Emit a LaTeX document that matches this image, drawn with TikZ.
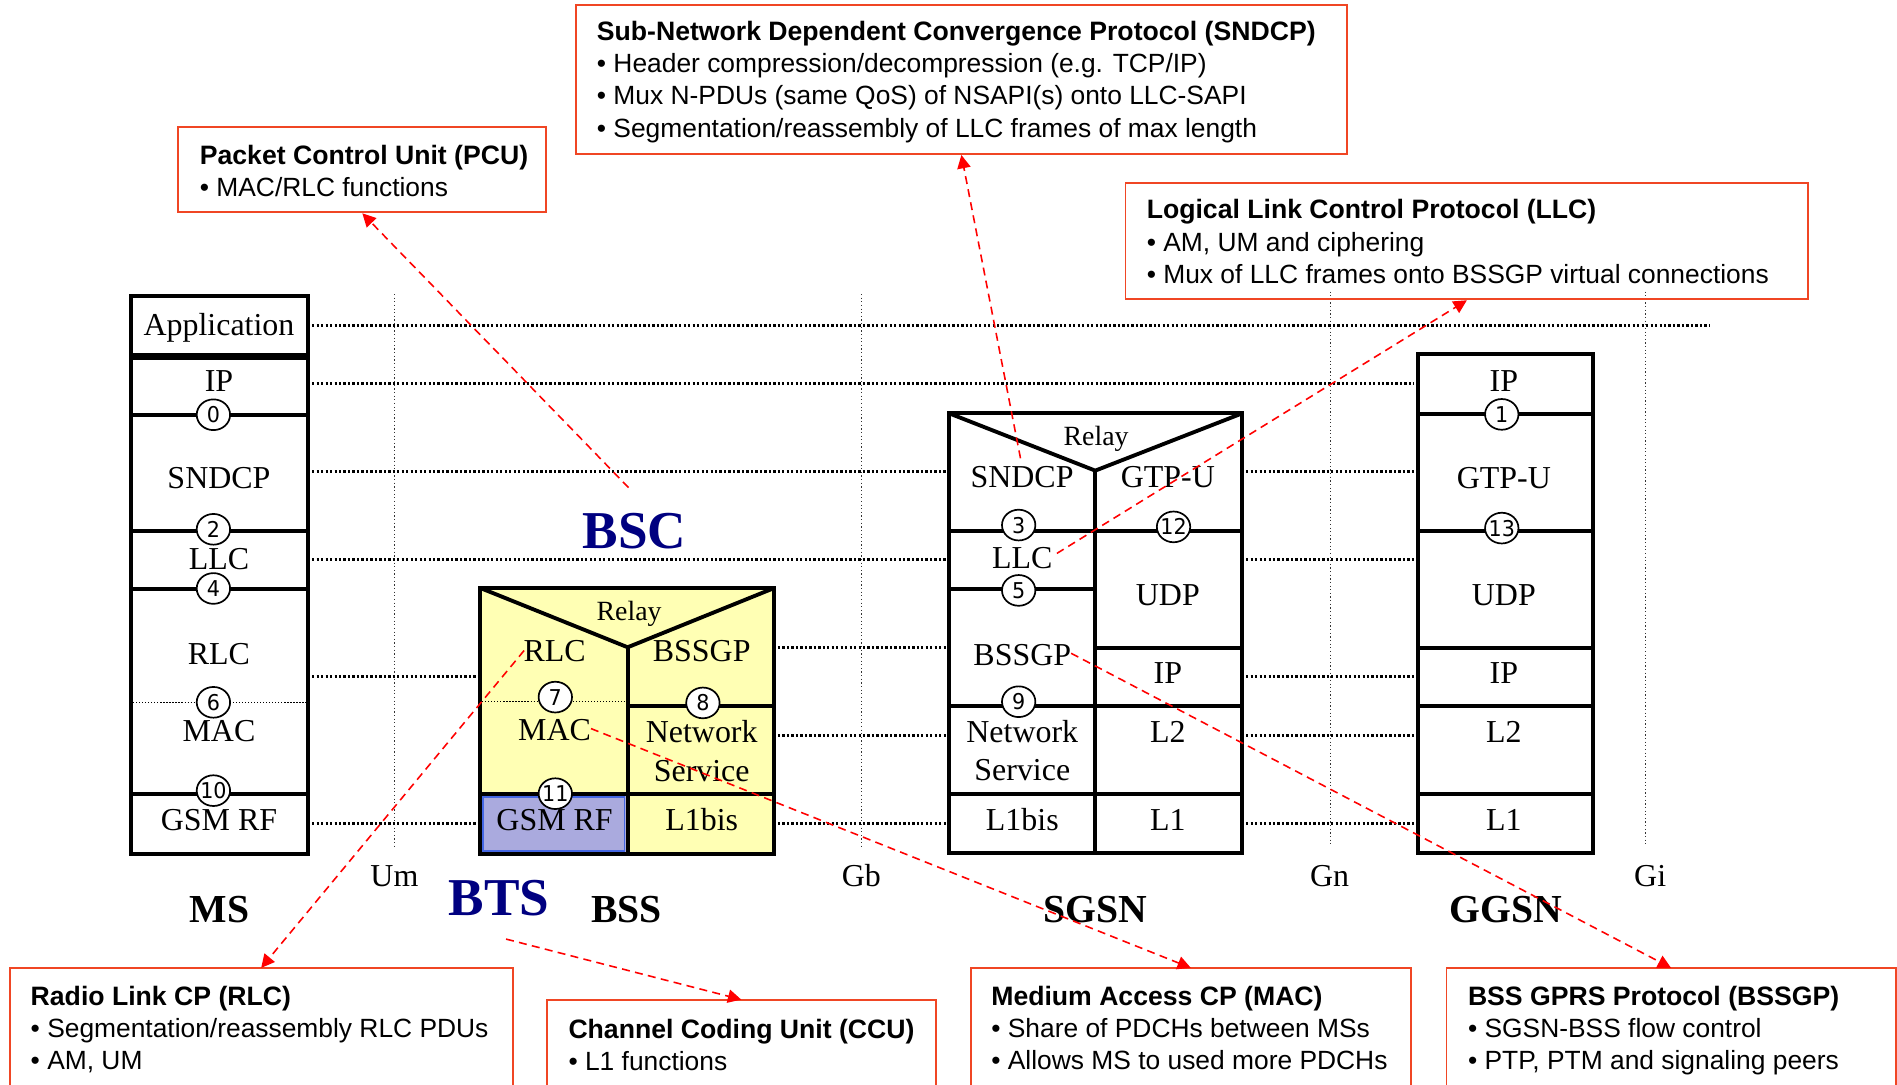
\documentclass[tikz,border=0pt]{standalone}
\usepackage{fontspec}
\setmainfont{Liberation Serif}
\newfontfamily\calloutfont{Liberation Sans}
\newfontfamily\digitfont[FakeStretch=0.95]{DejaVu Sans}
\usetikzlibrary{arrows.meta,fit,shapes.geometric}

\definecolor{calloutred}{RGB}{240,70,36}
\definecolor{arrowred}{RGB}{255,0,0}
\definecolor{bssyellow}{RGB}{255,255,180}
\definecolor{rflavender}{RGB}{170,170,222}
\definecolor{rfblue}{RGB}{68,102,226}
\definecolor{navylabel}{RGB}{0,0,128}

% centred service-access-point number
\newcommand\sapnum[1]{\makebox[0pt]{#1}}
\newcommand\calltitle{\calloutfont\fontsize{11}{13.3}\selectfont\bfseries}

\tikzset{
  stack/.style={line width=1.6pt},
  innerdot/.style={line width=0.45pt, dash pattern=on 0.5pt off 0.75pt},
  peer/.style={line width=1.2pt, dash pattern=on 0.95pt off 0.9pt},
  iface/.style={line width=0.4pt, dash pattern=on 0.5pt off 1pt, black!80},
  lyr/.style={inner sep=0pt, font=\fontsize{13.2}{14}\selectfont, text height=8.7pt, text depth=0pt},
  relay/.style={inner sep=0pt, font=\fontsize{11.5}{13}\selectfont, text height=7.6pt, text depth=0pt},
  entity/.style={inner sep=0pt, font=\fontsize{16.4}{18}\selectfont\bfseries, text height=10.9pt, text depth=0pt},
  subsys/.style={inner sep=0pt, font=\fontsize{22}{24}\selectfont\bfseries, text height=14.6pt, text depth=0pt, text=navylabel},
  ifc/.style={inner sep=0pt, font=\fontsize{13.2}{14}\selectfont, text height=8.7pt, text depth=0pt},
  sap/.style={ellipse, draw, fill=white, line width=0.7pt, minimum width=13.8pt, minimum height=12.7pt,
    inner sep=0pt, font=\digitfont\fontsize{9}{10}\selectfont, text height=6.6pt, text depth=0pt},
  callbox/.style={draw=calloutred, line width=0.8pt, inner sep=0pt, rectangle},
  openbox/.style={draw=none, inner sep=0pt, rectangle},
  openedge/.style={draw=calloutred, line width=0.8pt},
  % multi-line texts sit on the baseline of their last line
  calltext/.style={anchor=base west, inner sep=0pt, align=left, font=\calloutfont\fontsize{10.9}{13.3}\selectfont},
  pointer/.style={draw=arrowred, line width=0.65pt, dash pattern=on 3.3pt off 2.2pt,
    -{Triangle[length=5.5pt,width=5.5pt]}},
}

\begin{document}
\begin{tikzpicture}[x=0.5pt,y=-0.5pt]
\useasboundingbox (0,0) rectangle (1568,896);

% ---------- BSS fills ----------
\fill[bssyellow] (397,486) rectangle (640,706);
\fill[rflavender] (397,656) rectangle (518.8,706);
\draw[rfblue, line width=0.8pt] (399.6,658.6) rectangle (516.2,703.4);

% ---------- interface reference lines ----------
\draw[iface] (326.2,243) -- (326.2,701);
\draw[iface] (712,243) -- (712,701);
\draw[iface] (1099.4,241) -- (1099.4,699);
\draw[iface] (1360.2,241) -- (1360.2,699);

% ---------- peer-to-peer dotted lines ----------
\draw[peer] (258,268.9) -- (1413,268.9);
\draw[peer] (258,317.2) -- (1169,317.2);
\draw[peer] (258,390) -- (782,390);
\draw[peer] (1030,390) -- (1169,390);
\draw[peer] (258,462.5) -- (782,462.5);
\draw[peer] (1030,462.5) -- (1169,462.5);
\draw[peer] (258,558.8) -- (395,558.8);
\draw[peer] (643,535.4) -- (782,535.4);
\draw[peer] (1030,558.8) -- (1169,558.8);
\draw[peer] (643,607.6) -- (782,607.6);
\draw[peer] (1030,607.6) -- (1169,607.6);
\draw[peer] (258,680.3) -- (395,680.3);
\draw[peer] (643,680.3) -- (782,680.3);
\draw[peer] (1030,680.3) -- (1169,680.3);

% ---------- MS stack ----------
\draw[stack] (108.5,244.8) rectangle (254.3,293.3);
\draw[stack] (108.5,295.7) rectangle (254.3,705.9);
\draw[stack] (108.5,342.8) -- (254.3,342.8);
\draw[stack] (108.5,439.2) -- (254.3,439.2);
\draw[stack] (108.5,486.7) -- (254.3,486.7);
\draw[stack] (108.5,656.3) -- (254.3,656.3);
\draw[innerdot] (110,581) -- (253,581);

% ---------- BSS stack ----------
\draw[stack] (397,486) rectangle (640,706);
\draw[stack] (397,486) -- (518.8,535) -- (640,486);
\draw[stack] (518.8,535) -- (518.8,706);
\draw[stack] (518.8,583.2) -- (640,583.2);
\draw[stack] (397,656) -- (640,656);
\draw[innerdot] (398.5,580) -- (518,580);

% ---------- SGSN stack ----------
\draw[stack] (784.7,341.7) rectangle (1026.6,704.8);
\draw[stack] (784.7,341.7) -- (905.3,389) -- (1026.6,341.7);
\draw[stack] (905.3,389) -- (905.3,704.8);
\draw[stack] (784.7,438.9) -- (1026.6,438.9);
\draw[stack] (784.7,487.1) -- (905.3,487.1);
\draw[stack] (905.3,535.4) -- (1026.6,535.4);
\draw[stack] (784.7,583.6) -- (1026.6,583.6);
\draw[stack] (784.7,656.6) -- (1026.6,656.6);

% ---------- GGSN stack ----------
\draw[stack] (1171.8,292.6) rectangle (1316.4,704.8);
\draw[stack] (1171.8,342.5) -- (1316.4,342.5);
\draw[stack] (1171.8,438.9) -- (1316.4,438.9);
\draw[stack] (1171.8,535.4) -- (1316.4,535.4);
\draw[stack] (1171.8,583.6) -- (1316.4,583.6);
\draw[stack] (1171.8,656.6) -- (1316.4,656.6);

% ---------- layer names ----------
\node[lyr] (msApp)   at (181,268.7) {Application};
\node[lyr] (msIP)    at (181,315.3) {IP};
\node[lyr] (msSNDCP) at (181,395.3) {SNDCP};
\node[lyr] (msLLC)   at (181,462.4) {LLC};
\node[lyr] (msRLC)   at (181,540.8) {RLC};
\node[lyr] (msMAC)   at (181,604)   {MAC};
\node[lyr] (msRF)    at (181,677.5) {GSM RF};

\node[relay] (bssRelay) at (520,505) {Relay};
\node[lyr] (bssRLC)   at (458.4,538) {RLC};
\node[lyr] (bssMAC)   at (458.4,603.2) {MAC};
\node[lyr] (bssBSSGP) at (580,538) {BSSGP};
\node[lyr] (bssNet)   at (580,605.3) {Network};
\node[lyr] (bssSvc)   at (580,637.5) {Service};
\node[lyr] (bssRF)    at (458.4,678) {GSM RF};
\node[lyr] (bssL1)    at (580,678) {L1bis};

\node[relay] (sgsnRelay) at (906,361) {Relay};
\node[lyr] (sgsnSNDCP) at (844.8,394) {SNDCP};
\node[lyr] (sgsnGTP)   at (965.3,394) {GTP-U};
\node[lyr] (sgsnLLC)   at (845,461.5) {LLC};
\node[lyr] (sgsnUDP)   at (965.3,491.8) {UDP};
\node[lyr] (sgsnBSSGP) at (845,541.4) {BSSGP};
\node[lyr] (sgsnIP)    at (965.3,556.6) {IP};
\node[lyr] (sgsnNet)   at (845,604.8) {Network};
\node[lyr] (sgsnSvc)   at (845,636.5) {Service};
\node[lyr] (sgsnL2)    at (965.3,604.8) {L2};
\node[lyr] (sgsnL1bis) at (845,677.5) {L1bis};
\node[lyr] (sgsnL1)    at (965.3,677.5) {L1};

\node[lyr] (ggsnIP)  at (1243,315.3) {IP};
\node[lyr] (ggsnGTP) at (1243,395.3) {GTP-U};
\node[lyr] (ggsnUDP) at (1243,491.8) {UDP};
\node[lyr] (ggsnIP2) at (1243,556.6) {IP};
\node[lyr] (ggsnL2)  at (1243,604.8) {L2};
\node[lyr] (ggsnL1)  at (1243,677.5) {L1};

% ---------- service access points ----------
\node[sap] (sap0)  at (176.4,342.8) {\sapnum{0}};
\node[sap] (sap2)  at (176.4,437.5) {\sapnum{2}};
\node[sap] (sap4)  at (176.4,486.4) {\sapnum{4}};
\node[sap] (sap6)  at (176.4,580.5) {\sapnum{6}};
\node[sap] (sap10) at (176.4,653.5) {\sapnum{10}};
\node[sap] (sap7)  at (459,576.2) {\sapnum{7}};
\node[sap] (sap8)  at (581,581) {\sapnum{8}};
\node[sap] (sap11) at (459,656) {\sapnum{11}};
\node[sap] (sap3)  at (842,434) {\sapnum{3}};
\node[sap] (sap12) at (970,435.5) {\sapnum{12}};
\node[sap] (sap5)  at (842,488) {\sapnum{5}};
\node[sap] (sap9)  at (842,580) {\sapnum{9}};
\node[sap] (sap1)  at (1241.3,342.5) {\sapnum{1}};
\node[sap] (sap13) at (1241.3,436.5) {\sapnum{13}};

% ---------- entity and interface names ----------
\node[subsys] (bsc) at (524.5,438.5) {BSC};
\node[subsys] (bts) at (412.5,742.5) {BTS};
\node[entity] (ms)   at (181.5,752) {MS};
\node[entity] (bss)  at (518,752) {BSS};
\node[entity] (sgsn) at (905,752) {SGSN};
\node[entity] (ggsn) at (1244.5,752) {GGSN};
\node[ifc] (um) at (326,724) {Um};
\node[ifc] (gb) at (712,724) {Gb};
\node[ifc] (gn) at (1099,724) {Gn};
\node[ifc] (gi) at (1364,724) {Gi};

% ---------- callout frames ----------
\coordinate (pcuA) at (147.4,105.3);   \coordinate (pcuB) at (451.6,175.5);
\coordinate (sndA) at (476.3,4.1);     \coordinate (sndB) at (1113,127.3);
\coordinate (llcA) at (930.3,151);     \coordinate (llcB) at (1494.6,247.4);
\coordinate (rlcA) at (8.5,800.4);     \coordinate (rlcB) at (423.3,896);
\coordinate (ccuA) at (452.4,826.6);   \coordinate (ccuB) at (773,896);
\coordinate (macA) at (802.6,800.4);   \coordinate (macB) at (1166,896);
\coordinate (bgpA) at (1196,800.4);    \coordinate (bgpB) at (1566.5,896);

\node[callbox, fit=(pcuA)(pcuB)] (pcuBox) {};
\node[callbox, fit=(sndA)(sndB)] (sndcpBox) {};
\node[callbox, fit=(llcA)(llcB)] (llcBox) {};
\node[openbox, fit=(rlcA)(rlcB)] (rlcBox) {};
\node[openbox, fit=(ccuA)(ccuB)] (ccuBox) {};
\node[openbox, fit=(macA)(macB)] (macBox) {};
\node[openbox, fit=(bgpA)(bgpB)] (bssgpBox) {};
\foreach \b in {rlcBox,ccuBox,macBox,bssgpBox}
  \draw[openedge] (\b.south west) -- (\b.north west) -- (\b.north east) -- (\b.south east);

% ---------- callout texts ----------
\node[calltext] (pcuText) at (164.8,162.2)
  {{\calltitle Packet Control Unit (PCU)}\\• MAC/RLC functions};
\node[calltext] (sndcpText) at (493,113.3)
  {{\calltitle Sub-Network Dependent Convergence Protocol (SNDCP)}\\
   • Header compression/decompression (e.g. TCP/IP)\\
   • Mux N-PDUs (same QoS) of NSAPI(s) onto LLC-SAPI\\
   • Segmentation/reassembly of LLC frames of max length};
\node[calltext] (llcText) at (947.5,234.2)
  {{\calltitle Logical Link Control Protocol (LLC)}\\
   • AM, UM and ciphering\\
   • Mux of LLC frames onto BSSGP virtual connections};
\node[calltext] (rlcText) at (25,884.2)
  {{\calltitle Radio Link CP (RLC)}\\
   • Segmentation/reassembly RLC PDUs\\
   • AM, UM};
\node[calltext] (ccuText) at (469.5,884.6)
  {{\calltitle Channel Coding Unit (CCU)}\\
   • L1 functions};
\node[calltext] (macText) at (819,884.2)
  {{\calltitle Medium Access CP (MAC)}\\
   • Share of PDCHs between MSs\\
   • Allows MS to used more PDCHs};
\node[calltext] (bssgpText) at (1213,884.2)
  {{\calltitle BSS GPRS Protocol (BSSGP)}\\
   • SGSN-BSS flow control\\
   • PTP, PTM and signaling peers};

% ---------- pointers from layers to their descriptions ----------
\coordinate (pcuFrom)   at (519.5,403);
\coordinate (sndcpFrom) at (843.5,378.8);
\coordinate (llcFrom)   at (873.6,457.4);
\coordinate (rlcFrom)   at (433.2,537.7);
\coordinate (ccuFrom)   at (418.3,776.2);
\coordinate (macFrom)   at (488.5,602.2);
\coordinate (bssgpFrom) at (885.4,540);

\draw[pointer] (pcuFrom)   -- (pcuBox.south);
\draw[pointer] (sndcpFrom) -- (sndcpBox.south);
\draw[pointer] (llcFrom)   -- (llcBox.south);
\draw[pointer] (rlcFrom)   -- (rlcBox.north);
\draw[pointer] (ccuFrom)   -- (ccuBox.north);
\draw[pointer] (macFrom)   -- (macBox.north);
\draw[pointer] (bssgpFrom) -- (bssgpBox.north);
\end{tikzpicture}
\end{document}
